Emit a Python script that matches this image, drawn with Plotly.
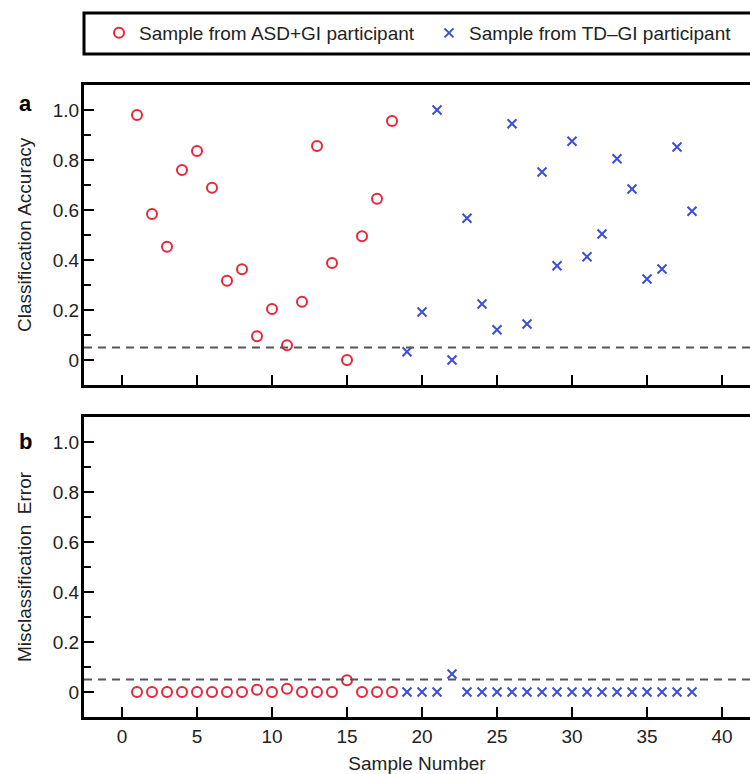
import plotly.graph_objects as go

# Sample numbers for each participant group
asd_samples = list(range(1, 19))
td_samples = list(range(19, 39))

# Panel a: classification accuracy per held-out sample
asd_accuracy = [0.98, 0.584, 0.453, 0.76, 0.836, 0.689, 0.317, 0.363, 0.095,
                0.204, 0.059, 0.233, 0.856, 0.388, 0.0, 0.495, 0.645, 0.956]
td_accuracy = [0.033, 0.192, 1.0, 0.0, 0.567, 0.224, 0.121, 0.945, 0.144, 0.752,
               0.377, 0.875, 0.413, 0.504, 0.805, 0.684, 0.324, 0.364, 0.852, 0.595]

# Panel b: misclassification error per held-out sample
asd_error = [0, 0, 0, 0, 0, 0, 0, 0, 0.009, 0, 0.013, 0, 0, 0, 0.047, 0, 0, 0]
td_error = [0, 0, 0, 0.072, 0, 0, 0, 0, 0, 0, 0, 0, 0, 0, 0, 0, 0, 0, 0, 0]

threshold = 0.05
x_ticks = [0, 5, 10, 15, 20, 25, 30, 35, 40]
y_ticks = [0, 0.2, 0.4, 0.6, 0.8, 1.0]
y_ticktext = ["0", "0.2", "0.4", "0.6", "0.8", "1.0"]

RED = "#e8263a"
BLUE = "#3b4fd6"
FONT = "Liberation Sans, Arial, sans-serif"
TXT = "#222222"
FS = 19

fig = go.Figure()

red_marker = dict(symbol="circle-open", size=10, color=RED, line=dict(width=2, color=RED))
blue_marker = dict(symbol="x-thin-open", size=9, color=BLUE, line=dict(width=2, color=BLUE))

fig.add_trace(go.Scatter(x=asd_samples, y=asd_accuracy, mode="markers", marker=red_marker,
                         name="Sample from ASD+GI participant", legend="legend",
                         xaxis="x", yaxis="y"))
fig.add_trace(go.Scatter(x=td_samples, y=td_accuracy, mode="markers", marker=blue_marker,
                         name="Sample from TD\u2013GI participant", legend="legend2",
                         xaxis="x", yaxis="y"))
fig.add_trace(go.Scatter(x=asd_samples, y=asd_error, mode="markers", marker=red_marker,
                         showlegend=False, xaxis="x2", yaxis="y2"))
fig.add_trace(go.Scatter(x=td_samples, y=td_error, mode="markers", marker=blue_marker,
                         showlegend=False, xaxis="x2", yaxis="y2"))

W, H = 750, 774
T, B = 85, 57
plot_h = H - T - B
panel_h = 300
gap = 32

axis_common = dict(
    showline=True, linewidth=3, linecolor="black", mirror=True,
    ticks="inside", ticklen=10, tickwidth=2, tickcolor="black",
    showgrid=False, zeroline=False, automargin=False,
    tickfont=dict(family=FONT, size=FS, color=TXT),
)
y_minor = dict(dtick=0.1, tick0=0, ticks="inside", ticklen=7, tickwidth=2, tickcolor="black")

xr = [-38 / 15, (750 - 122) / 15]
yr = [-0.1, 1.1]

legend_common = dict(xref="container", yref="container", y=1 - 33 / H,
                     xanchor="left", yanchor="middle", orientation="h",
                     font=dict(family=FONT, size=FS, color=TXT), borderwidth=0,
                     bgcolor="rgba(0,0,0,0)", itemclick=False)

fig.update_layout(
    width=W, height=H,
    margin=dict(l=84, r=0, t=T, b=B),
    paper_bgcolor="white", plot_bgcolor="white",
    font=dict(family=FONT, size=FS, color=TXT),
    xaxis=dict(**axis_common, range=xr, tickvals=x_ticks, showticklabels=False,
               anchor="y", domain=[0, 1]),
    yaxis=dict(**axis_common, range=yr, tickvals=y_ticks, ticktext=y_ticktext,
               minor=y_minor, ticklabelstandoff=-2,
               anchor="x", domain=[(panel_h + gap) / plot_h, 1]),
    xaxis2=dict(**axis_common, range=xr, tickvals=x_ticks, anchor="y2", domain=[0, 1],
                title=dict(text="Sample Number", font=dict(family=FONT, size=FS, color=TXT),
                           standoff=19)),
    yaxis2=dict(**axis_common, range=yr, tickvals=y_ticks, ticktext=y_ticktext,
                minor=y_minor, ticklabelstandoff=-2,
                anchor="x2", domain=[0, panel_h / plot_h]),
    legend=dict(**legend_common, x=99 / W),
    legend2=dict(**legend_common, x=429 / W),
    showlegend=True,
)

# Chance-level reference lines
for xd, yref in (("x domain", "y"), ("x2 domain", "y2")):
    fig.add_shape(type="line", xref=xd, yref=yref,
                  x0=0, x1=1, y0=threshold, y1=threshold,
                  line=dict(color="#555555", width=2, dash="8px,6px"))


def py(pix):
    return (H - B - pix) / plot_h


def px(pix):
    return (pix - 84) / (W - 84)


# Legend frame (open on the right where it runs off the page)
lt, lb = py(13), py(54)
fig.add_shape(type="path", xref="paper", yref="paper",
              path=f"M 1.1,{lt} L 0,{lt} L 0,{lb} L 1.1,{lb}",
              line=dict(color="black", width=3))

# Y-axis titles (centred on each panel) and panel letters
label_common = dict(xref="paper", yref="paper", showarrow=False,
                    xanchor="center", yanchor="middle")
fig.add_annotation(text="Classification Accuracy", textangle=-90, x=px(24), y=py(235),
                   font=dict(family=FONT, size=FS, color=TXT), **label_common)
fig.add_annotation(text="Misclassification  Error", textangle=-90, x=px(24), y=py(567),
                   font=dict(family=FONT, size=FS, color=TXT), **label_common)
fig.add_annotation(text="<b>a</b>", x=px(25), y=py(103),
                   font=dict(family=FONT, size=22, color="black"), **label_common)
fig.add_annotation(text="<b>b</b>", x=px(25), y=py(441),
                   font=dict(family=FONT, size=22, color="black"), **label_common)

fig.write_html("out.html")
